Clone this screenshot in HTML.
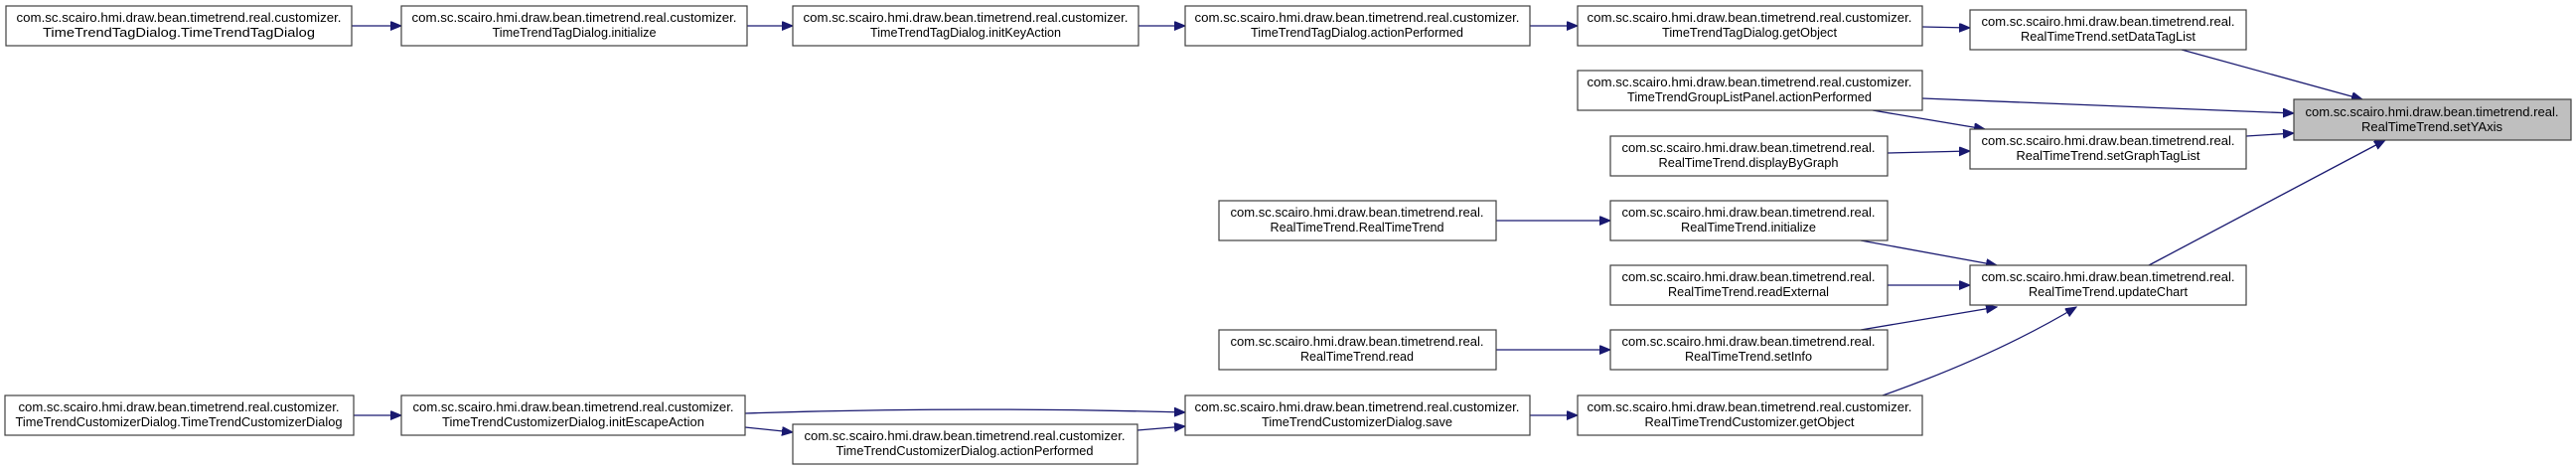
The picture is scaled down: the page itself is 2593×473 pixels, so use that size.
<!DOCTYPE html>
<html><head><meta charset="utf-8"><style>
html,body{margin:0;padding:0;background:#fff;}
svg{display:block;}
text{font-family:"Liberation Sans",sans-serif;font-size:13px;fill:#000;}
rect{fill:#fff;stroke:#404040;stroke-width:1.2;}
.e{stroke:#191970;stroke-width:1.3;fill:none;marker-end:url(#a);}
</style></head><body>
<svg width="2593" height="473" viewBox="0 0 2593 473" xmlns="http://www.w3.org/2000/svg">
<defs><marker id="a" markerUnits="userSpaceOnUse" markerWidth="12" markerHeight="10" refX="11" refY="4.5" orient="auto"><path d="M0,0 L11,4.5 L0,9 Z" fill="#191970" stroke="#191970"/></marker></defs>

<!-- edges -->
<path class="e" d="M354,26 L404,26"/>
<path class="e" d="M752,26 L798,26"/>
<path class="e" d="M1146,26 L1193,26"/>
<path class="e" d="M1540,26 L1588,26"/>
<path class="e" d="M1935,27 L1983,28"/>
<path class="e" d="M2196,50 L2378,100"/>
<path class="e" d="M1935,99 L2309,114"/>
<path class="e" d="M1885,111 L1998,130"/>
<path class="e" d="M1900,154 L1983,152"/>
<path class="e" d="M2261,137 L2309,134"/>
<path class="e" d="M2163,267 L2401,141"/>
<path class="e" d="M1873,242 L2010,267"/>
<path class="e" d="M1900,287 L1983,287"/>
<path class="e" d="M1873,332 L2010,309"/>
<path class="e" d="M1895,398 C1960,375 2030,345 2090,309"/>
<path class="e" d="M1506,222 L1621,222"/>
<path class="e" d="M1506,352 L1621,352"/>
<path class="e" d="M1540,418 L1588,418"/>
<path class="e" d="M356,418 L404,418"/>
<path class="e" d="M750,416 C900,411 1050,411 1193,415"/>
<path class="e" d="M750,430 L798,435"/>
<path class="e" d="M1145,433 L1193,429"/>

<!-- nodes -->
<rect x="6" y="6" width="348" height="40"/>
<text x="180" y="22" text-anchor="middle" textLength="327" lengthAdjust="spacingAndGlyphs">com.sc.scairo.hmi.draw.bean.timetrend.real.customizer.</text>
<text x="180" y="37" text-anchor="middle" textLength="274" lengthAdjust="spacingAndGlyphs">TimeTrendTagDialog.TimeTrendTagDialog</text>

<rect x="404" y="6" width="348" height="40"/>
<text x="578" y="22" text-anchor="middle" textLength="327" lengthAdjust="spacingAndGlyphs">com.sc.scairo.hmi.draw.bean.timetrend.real.customizer.</text>
<text x="578" y="37" text-anchor="middle" textLength="165" lengthAdjust="spacingAndGlyphs">TimeTrendTagDialog.initialize</text>

<rect x="798" y="6" width="348" height="40"/>
<text x="972" y="22" text-anchor="middle" textLength="327" lengthAdjust="spacingAndGlyphs">com.sc.scairo.hmi.draw.bean.timetrend.real.customizer.</text>
<text x="972" y="37" text-anchor="middle" textLength="192" lengthAdjust="spacingAndGlyphs">TimeTrendTagDialog.initKeyAction</text>

<rect x="1193" y="6" width="347" height="40"/>
<text x="1366" y="22" text-anchor="middle" textLength="327" lengthAdjust="spacingAndGlyphs">com.sc.scairo.hmi.draw.bean.timetrend.real.customizer.</text>
<text x="1366" y="37" text-anchor="middle" textLength="214" lengthAdjust="spacingAndGlyphs">TimeTrendTagDialog.actionPerformed</text>

<rect x="1588" y="6" width="347" height="40"/>
<text x="1761" y="22" text-anchor="middle" textLength="327" lengthAdjust="spacingAndGlyphs">com.sc.scairo.hmi.draw.bean.timetrend.real.customizer.</text>
<text x="1761" y="37" text-anchor="middle" textLength="176" lengthAdjust="spacingAndGlyphs">TimeTrendTagDialog.getObject</text>

<rect x="1588" y="71" width="347" height="40"/>
<text x="1761" y="87" text-anchor="middle" textLength="327" lengthAdjust="spacingAndGlyphs">com.sc.scairo.hmi.draw.bean.timetrend.real.customizer.</text>
<text x="1761" y="102" text-anchor="middle" textLength="246" lengthAdjust="spacingAndGlyphs">TimeTrendGroupListPanel.actionPerformed</text>

<rect x="1621" y="137" width="279" height="40"/>
<text x="1760" y="153" text-anchor="middle" textLength="255" lengthAdjust="spacingAndGlyphs">com.sc.scairo.hmi.draw.bean.timetrend.real.</text>
<text x="1760" y="168" text-anchor="middle" textLength="181" lengthAdjust="spacingAndGlyphs">RealTimeTrend.displayByGraph</text>

<rect x="1227" y="202" width="279" height="40"/>
<text x="1366" y="218" text-anchor="middle" textLength="255" lengthAdjust="spacingAndGlyphs">com.sc.scairo.hmi.draw.bean.timetrend.real.</text>
<text x="1366" y="233" text-anchor="middle" textLength="175" lengthAdjust="spacingAndGlyphs">RealTimeTrend.RealTimeTrend</text>

<rect x="1621" y="202" width="279" height="40"/>
<text x="1760" y="218" text-anchor="middle" textLength="255" lengthAdjust="spacingAndGlyphs">com.sc.scairo.hmi.draw.bean.timetrend.real.</text>
<text x="1760" y="233" text-anchor="middle" textLength="136" lengthAdjust="spacingAndGlyphs">RealTimeTrend.initialize</text>

<rect x="1621" y="267" width="279" height="40"/>
<text x="1760" y="283" text-anchor="middle" textLength="255" lengthAdjust="spacingAndGlyphs">com.sc.scairo.hmi.draw.bean.timetrend.real.</text>
<text x="1760" y="298" text-anchor="middle" textLength="162" lengthAdjust="spacingAndGlyphs">RealTimeTrend.readExternal</text>

<rect x="1227" y="332" width="279" height="40"/>
<text x="1366" y="348" text-anchor="middle" textLength="255" lengthAdjust="spacingAndGlyphs">com.sc.scairo.hmi.draw.bean.timetrend.real.</text>
<text x="1366" y="363" text-anchor="middle" textLength="114" lengthAdjust="spacingAndGlyphs">RealTimeTrend.read</text>

<rect x="1621" y="332" width="279" height="40"/>
<text x="1760" y="348" text-anchor="middle" textLength="255" lengthAdjust="spacingAndGlyphs">com.sc.scairo.hmi.draw.bean.timetrend.real.</text>
<text x="1760" y="363" text-anchor="middle" textLength="128" lengthAdjust="spacingAndGlyphs">RealTimeTrend.setInfo</text>

<rect x="1193" y="398" width="347" height="40"/>
<text x="1366" y="414" text-anchor="middle" textLength="327" lengthAdjust="spacingAndGlyphs">com.sc.scairo.hmi.draw.bean.timetrend.real.customizer.</text>
<text x="1366" y="429" text-anchor="middle" textLength="192" lengthAdjust="spacingAndGlyphs">TimeTrendCustomizerDialog.save</text>

<rect x="1588" y="398" width="347" height="40"/>
<text x="1761" y="414" text-anchor="middle" textLength="327" lengthAdjust="spacingAndGlyphs">com.sc.scairo.hmi.draw.bean.timetrend.real.customizer.</text>
<text x="1761" y="429" text-anchor="middle" textLength="211" lengthAdjust="spacingAndGlyphs">RealTimeTrendCustomizer.getObject</text>

<rect x="1983" y="10" width="278" height="40"/>
<text x="2122" y="26" text-anchor="middle" textLength="255" lengthAdjust="spacingAndGlyphs">com.sc.scairo.hmi.draw.bean.timetrend.real.</text>
<text x="2122" y="41" text-anchor="middle" textLength="176" lengthAdjust="spacingAndGlyphs">RealTimeTrend.setDataTagList</text>

<rect x="1983" y="130" width="278" height="40"/>
<text x="2122" y="146" text-anchor="middle" textLength="255" lengthAdjust="spacingAndGlyphs">com.sc.scairo.hmi.draw.bean.timetrend.real.</text>
<text x="2122" y="161" text-anchor="middle" textLength="185" lengthAdjust="spacingAndGlyphs">RealTimeTrend.setGraphTagList</text>

<rect x="1983" y="267" width="278" height="40"/>
<text x="2122" y="283" text-anchor="middle" textLength="255" lengthAdjust="spacingAndGlyphs">com.sc.scairo.hmi.draw.bean.timetrend.real.</text>
<text x="2122" y="298" text-anchor="middle" textLength="160" lengthAdjust="spacingAndGlyphs">RealTimeTrend.updateChart</text>

<rect x="2309" y="100" width="279" height="41" style="fill:#bfbfbf"/>
<text x="2448" y="117" text-anchor="middle" textLength="255" lengthAdjust="spacingAndGlyphs">com.sc.scairo.hmi.draw.bean.timetrend.real.</text>
<text x="2448" y="132" text-anchor="middle" textLength="142" lengthAdjust="spacingAndGlyphs">RealTimeTrend.setYAxis</text>

<rect x="5" y="398" width="351" height="40"/>
<text x="180" y="414" text-anchor="middle" textLength="323" lengthAdjust="spacingAndGlyphs">com.sc.scairo.hmi.draw.bean.timetrend.real.customizer.</text>
<text x="180" y="429" text-anchor="middle" textLength="329" lengthAdjust="spacingAndGlyphs">TimeTrendCustomizerDialog.TimeTrendCustomizerDialog</text>

<rect x="404" y="398" width="346" height="40"/>
<text x="577" y="414" text-anchor="middle" textLength="323" lengthAdjust="spacingAndGlyphs">com.sc.scairo.hmi.draw.bean.timetrend.real.customizer.</text>
<text x="577" y="429" text-anchor="middle" textLength="264" lengthAdjust="spacingAndGlyphs">TimeTrendCustomizerDialog.initEscapeAction</text>

<rect x="798" y="427" width="347" height="40"/>
<text x="971" y="443" text-anchor="middle" textLength="323" lengthAdjust="spacingAndGlyphs">com.sc.scairo.hmi.draw.bean.timetrend.real.customizer.</text>
<text x="971" y="458" text-anchor="middle" textLength="259" lengthAdjust="spacingAndGlyphs">TimeTrendCustomizerDialog.actionPerformed</text>
</svg>
</body></html>
